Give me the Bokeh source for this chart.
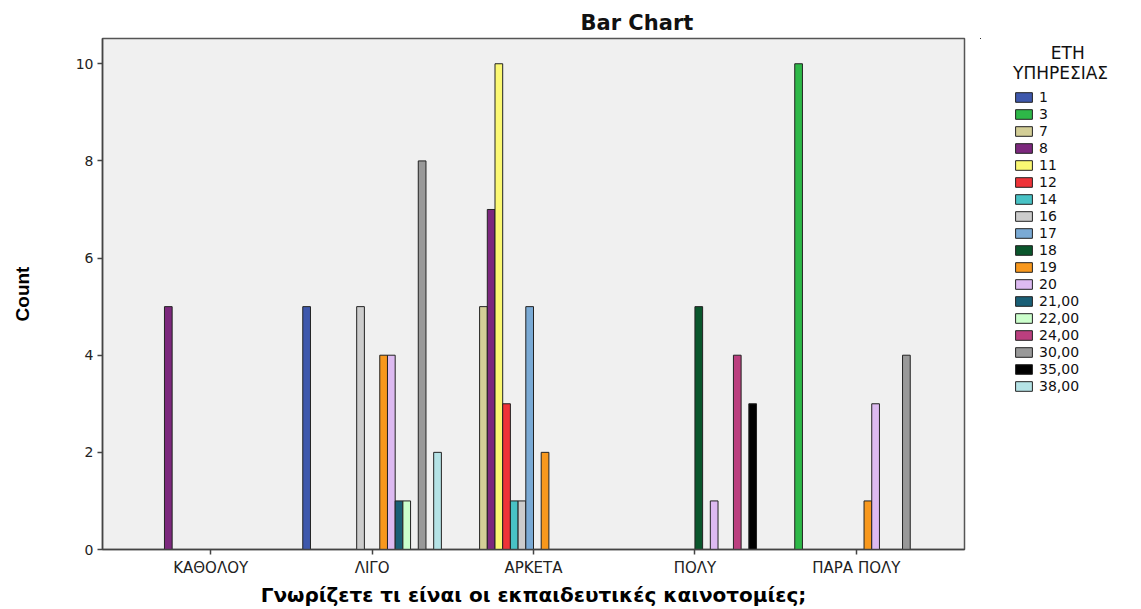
from bokeh.plotting import figure
from bokeh.layouts import row
from bokeh.models import Legend, LegendItem, FixedTicker, Range1d, ColumnDataSource
from bokeh.embed import file_html
from bokeh.resources import INLINE

categories = ["ΚΑΘΟΛΟΥ", "ΛΙΓΟ", "ΑΡΚΕΤΑ", "ΠΟΛΥ", "ΠΑΡΑ ΠΟΛΥ"]
series_names = ["1", "3", "7", "8", "11", "12", "14", "16", "17", "18", "19", "20",
                "21,00", "22,00", "24,00", "30,00", "35,00", "38,00"]
counts = {
    "1":     [0, 5, 0, 0, 0],
    "3":     [0, 0, 0, 0, 10],
    "7":     [0, 0, 5, 0, 0],
    "8":     [5, 0, 7, 0, 0],
    "11":    [0, 0, 10, 0, 0],
    "12":    [0, 0, 3, 0, 0],
    "14":    [0, 0, 1, 0, 0],
    "16":    [0, 5, 1, 0, 0],
    "17":    [0, 0, 5, 0, 0],
    "18":    [0, 0, 0, 5, 0],
    "19":    [0, 4, 2, 0, 1],
    "20":    [0, 4, 0, 1, 3],
    "21,00": [0, 1, 0, 0, 0],
    "22,00": [0, 1, 0, 0, 0],
    "24,00": [0, 0, 0, 4, 0],
    "30,00": [0, 8, 0, 0, 4],
    "35,00": [0, 0, 0, 3, 0],
    "38,00": [0, 2, 0, 0, 0],
}
colors = ["#3E58AC", "#2EB848", "#D3CE97", "#7C287D", "#FBF873", "#EF3338",
          "#48C2C5", "#CCCCCC", "#7AAAD5", "#0A562C", "#F8981D", "#DDBAF1",
          "#1A5F76", "#CCFFCC", "#BB3F7F", "#999999", "#000000", "#B5E3E6"]
y_ticks = [0, 2, 4, 6, 8, 10]
legend_title = "\u00a0\u00a0\u00a0\u00a0\u00a0\u00a0\u00a0ΕΤΗ\nΥΠΗΡΕΣΙΑΣ"

FONT = "DejaVu Sans"

p = figure(width=980, height=609, output_backend="svg", toolbar_location=None,
           x_range=Range1d(-0.67, 4.67), y_range=Range1d(0, 10.52),
           min_border_left=102, min_border_right=16, min_border_top=38, min_border_bottom=60,
           title="Bar Chart")
p.background_fill_color = "#F0F0F0"
p.border_fill_color = "white"
p.outline_line_color = "#555555"
p.outline_line_width = 1.5
p.xgrid.visible = False
p.ygrid.visible = False

p.title.align = "left"
p.title.offset = 478
p.title.text_font = FONT
p.title.text_font_size = "21px"
p.title.text_font_style = "bold"
p.title.text_color = "#111111"
p.title.standoff = 8

# legend panel: a second figure whose (out-of-view) glyphs carry the swatch styles
lg = figure(width=161, height=609, output_backend="svg", toolbar_location=None,
            x_range=Range1d(100, 101), y_range=Range1d(-200, -100),
            x_axis_location=None, y_axis_location=None,
            min_border_left=0, min_border_right=0, min_border_top=0, min_border_bottom=0)
lg.outline_line_color = None
lg.background_fill_color = "white"
lg.border_fill_color = "white"
lg.xgrid.visible = False
lg.ygrid.visible = False

n = len(series_names)
slot = 0.0477
items = []
for j, name in enumerate(series_names):
    xs, tops = [], []
    for i, v in enumerate(counts[name]):
        if v > 0:
            xs.append(i + (j - (n - 1) / 2) * slot)
            tops.append(v)
    src = ColumnDataSource(dict(x=xs, top=tops))
    p.vbar(x="x", top="top", width=slot, bottom=0, source=src,
           fill_color=colors[j], line_color="#222222", line_width=1)
    r2 = lg.vbar(x="x", top="top", width=slot, bottom=0, source=src,
                 fill_color=colors[j], line_color="#222222", line_width=1)
    items.append(LegendItem(label=name, renderers=[r2]))

legend = Legend(items=items, location=(33, 155), title=legend_title)
legend.glyph_width = 21
legend.glyph_height = 12
legend.label_height = 12
legend.spacing = 1
legend.padding = 0
legend.margin = 0
legend.label_standoff = 5
legend.label_text_font = FONT
legend.label_text_font_size = "14px"
legend.label_text_color = "#111111"
legend.title_text_font = FONT
legend.title_text_font_size = "17px"
legend.title_text_font_style = "normal"
legend.title_text_color = "#111111"
legend.title_standoff = 6
legend.border_line_color = None
legend.background_fill_alpha = 0
lg.add_layout(legend, "center")

p.xaxis.ticker = FixedTicker(ticks=list(range(len(categories))))
p.xaxis.major_label_overrides = {i: c for i, c in enumerate(categories)}
p.yaxis.ticker = FixedTicker(ticks=y_ticks)
for ax in (p.xaxis[0], p.yaxis[0]):
    ax.axis_line_color = "#444444"
    ax.axis_line_width = 1.5
    ax.major_tick_line_color = "#444444"
    ax.major_tick_line_width = 1.5
    ax.major_tick_in = 0
    ax.major_tick_out = 5
    ax.minor_tick_line_color = None
    ax.major_label_text_font = FONT
    ax.major_label_text_font_size = "14px"
    ax.major_label_text_color = "#222222"
    ax.axis_label_text_font = FONT
    ax.axis_label_text_font_style = "bold"
    ax.axis_label_text_color = "#000000"

p.xaxis.major_label_text_font_size = "15px"
p.xaxis.axis_label = "Γνωρίζετε τι είναι οι εκπαιδευτικές καινοτομίες;"
p.xaxis.axis_label_text_font_size = "20px"
p.xaxis.axis_label_standoff = 3
p.xaxis.major_label_standoff = 4
p.yaxis.axis_label = "Count"
p.yaxis.axis_label_text_font = "Liberation Sans"
p.yaxis.axis_label_text_font_size = "19px"
p.yaxis.axis_label_standoff = 40
p.yaxis.major_label_standoff = 4

layout = row(p, lg, spacing=0)
open("out.html", "w").write(file_html(layout, INLINE))
